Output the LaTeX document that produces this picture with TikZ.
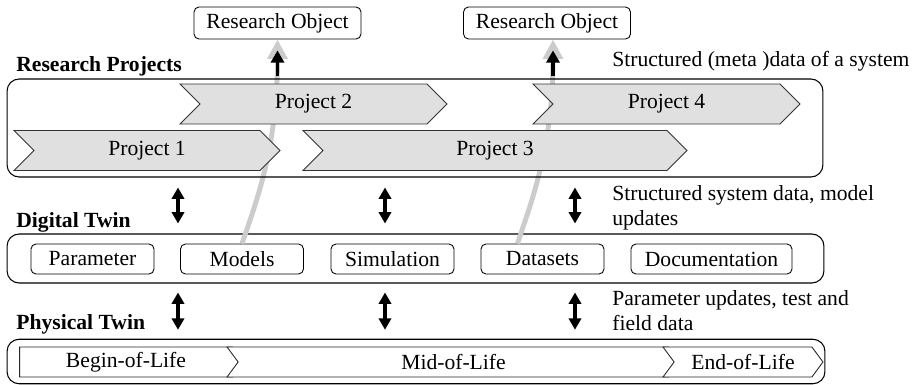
\documentclass[tikz,border=0pt]{standalone}
\usepackage{fontspec}
\setmainfont{Liberation Serif}
\usetikzlibrary{shapes.symbols,arrows.meta}

\tikzset{
  grouparea/.style={draw, rounded corners=0.24cm, line width=0.6pt, inner sep=0pt},
  projectarrow/.style={shape=signal, signal to=east, signal from=west, signal pointer angle=90,
    draw=black!80, fill=black!12, line width=0.5pt, minimum height=0.8cm, inner sep=0pt},
  lifearrow/.style={shape=signal, signal to=east, signal pointer angle=107,
    draw=black!85, fill=white, line width=0.5pt, minimum height=0.6cm, inner sep=0pt},
  twinbox/.style={draw, rounded corners=0.1cm, line width=0.5pt, minimum width=2.46cm,
    minimum height=0.6cm, inner sep=0pt},
  objectbox/.style={draw, rounded corners=0.1cm, line width=0.5pt, minimum width=3.34cm,
    minimum height=0.64cm, inner sep=0pt},
  layerlabel/.style={anchor=base west, font=\fontsize{12.3}{14.2}\selectfont\bfseries, inner sep=0pt},
  flowlabel/.style={anchor=north west, align=left, inner sep=0pt},
  flowarrow/.style={{Triangle[width=7pt,length=6.5pt]}-{Triangle[width=7pt,length=6.5pt]}, line width=1.9pt},
  objectflow/.style={draw=black!20, line width=2.8pt, -{Triangle[width=11pt,length=11pt]}},
  objectarrow/.style={line width=1.9pt, -{Triangle[width=7.5pt,length=7pt]}}
}

\begin{document}
\begin{tikzpicture}[x=0.02cm, y=-0.02cm, font=\fontsize{12.3}{14.2}\selectfont]
  \useasboundingbox (0,0) rectangle (917,385);

  % Research objects
  \node[objectbox] (ro1) at (277.5,23) {Research Object};
  \node[objectbox] (ro2) at (547,23) {Research Object};

  % Digital twin
  \node[layerlabel] (dtlabel) at (16,228) {Digital Twin};
  \node[grouparea, minimum width=16.34cm, minimum height=0.98cm] (dt) at (415.5,258.5) {};
  \node[twinbox] (pa) at (92.5,259) {Parameter};
  \node[twinbox] (mo) at (242,259) {Models};
  \node[twinbox] (si) at (392.5,259) {Simulation};
  \node[twinbox] (ds) at (542.5,259) {Datasets};
  \node[twinbox, minimum width=3.22cm] (doc) at (711.5,259) {Documentation};

  % Research objects from the digital twin (behind the projects)
  \draw[objectflow] (mo.north) .. controls (255,205) and (277.5,150) .. (ro1.south);
  \draw[objectflow] ([xshift=-0.5cm]ds.north) .. controls (530,205) and (553,150) .. ([xshift=0.12cm]ro2.south);

  % Research projects
  \node[layerlabel] (rplabel) at (16,72) {Research Projects};
  \node[grouparea, minimum width=16.32cm, minimum height=1.96cm] (rp) at (415,128) {};
  \node[projectarrow, minimum width=5.34cm] (p2) at (313.5,104) {Project 2};
  \node[projectarrow, minimum width=5.34cm] (p4) at (666.5,104) {Project 4};
  \node[projectarrow, minimum width=5.32cm] (p1) at (147,150.5) {Project 1};
  \node[projectarrow, minimum width=7.68cm] (p3) at (495,150.5) {Project 3};

  \draw[objectarrow] ([yshift=0.04cm]rp.north -| ro1.south) -- ([yshift=-0.22cm]ro1.south);
  \draw[objectarrow] ([yshift=0.04cm]rp.north -| 553,0) -- ([yshift=-0.22cm]ro2.south -| 553,0);

  % Physical twin
  \node[layerlabel] (ptlabel) at (16,329) {Physical Twin};
  \node[grouparea, minimum width=16.36cm, minimum height=0.89cm] (pt) at (416,361.5) {};
  \node[lifearrow, minimum width=4.48cm] (bol) at (126,362) {Begin-of-Life};
  \node[lifearrow, signal from=west, minimum width=9.06cm] (mol) at (453.5,362) {Mid-of-Life};
  \node[lifearrow, signal from=west, minimum width=3.2cm] (eol) at (743,362) {End-of-Life};

  % Flow labels
  \node[anchor=base west, inner sep=0pt] (l1) at (612,67) {Structured (meta )data of a system};
  \node[flowlabel] (l2) at (612,185) {Structured system data, model\\updates};
  \node[flowlabel] (l3) at (612,290) {Parameter updates, test and\\field data};

  % Data exchange between layers
  \draw[flowarrow] ([yshift=-0.2cm]rp.south -| 178,0) -- ([yshift=0.2cm]dt.north -| 178,0);
  \draw[flowarrow] ([yshift=-0.2cm]rp.south -| 385,0) -- ([yshift=0.2cm]dt.north -| 385,0);
  \draw[flowarrow] ([yshift=-0.2cm]rp.south -| 575,0) -- ([yshift=0.2cm]dt.north -| 575,0);
  \draw[flowarrow] ([yshift=-0.18cm]dt.south -| 178,0) -- ([yshift=0.18cm]pt.north -| 178,0);
  \draw[flowarrow] ([yshift=-0.18cm]dt.south -| 385,0) -- ([yshift=0.18cm]pt.north -| 385,0);
  \draw[flowarrow] ([yshift=-0.18cm]dt.south -| 575,0) -- ([yshift=0.18cm]pt.north -| 575,0);
\end{tikzpicture}
\end{document}
